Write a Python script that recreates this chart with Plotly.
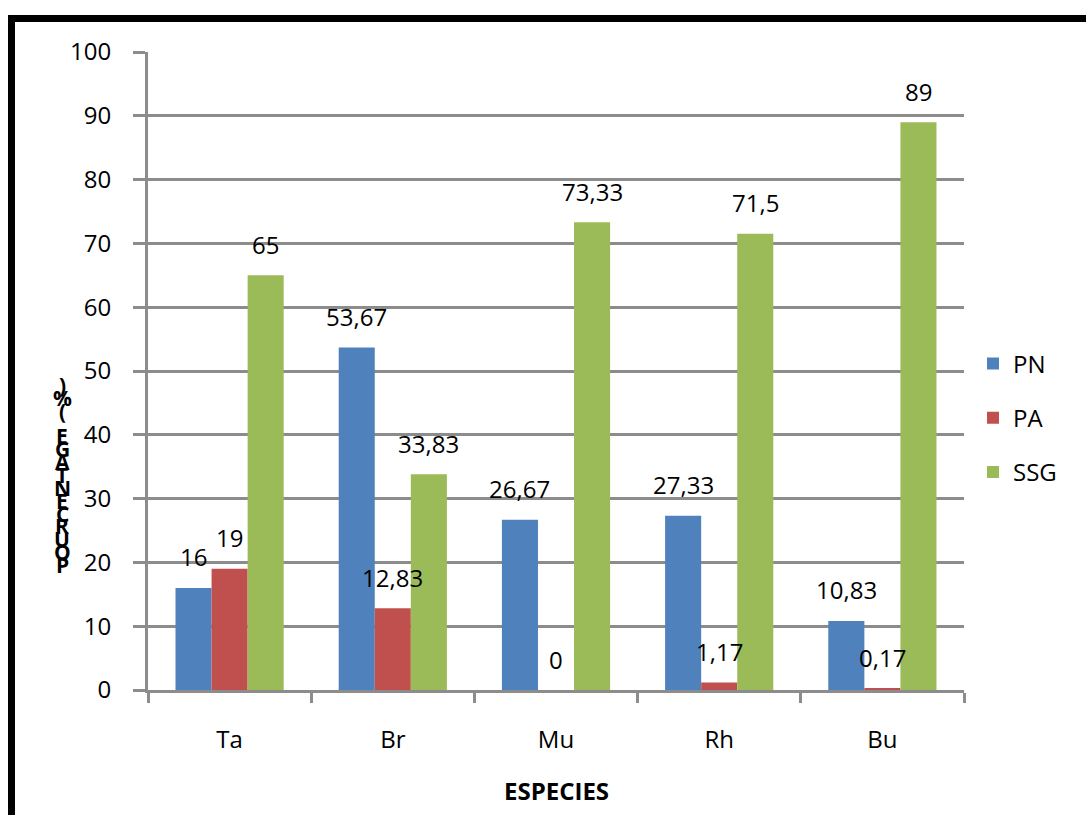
import plotly.graph_objects as go

# Species and measured percentages per group
categories = ["Ta", "Br", "Mu", "Rh", "Bu"]
pn_values = [16, 53.67, 26.67, 27.33, 10.83]
pa_values = [19, 12.83, 0, 1.17, 0.17]
ssg_values = [65, 33.83, 73.33, 71.5, 89]
series_names = ["PN", "PA", "SSG"]
series_colors = ["#4F81BD", "#C0504D", "#9BBB59"]
y_ticks = [0, 10, 20, 30, 40, 50, 60, 70, 80, 90, 100]
y_title = "POURCENTAGE (%)"
x_title = "ESPECIES"

W, H = 1086, 815
M_L, M_R, M_T, M_B = 148, 122, 52, 125
PLOT_W = W - M_L - M_R
PLOT_H = H - M_T - M_B
FONT = "Open Sans, Noto Sans, sans-serif"
GRID = "#8c8c8c"


def px_x(px):
    return (px - M_L) / PLOT_W


def px_y(py):
    return (H - M_B - py) / PLOT_H


def fmt(v):
    return f"{v:g}".replace(".", ",")


fig = go.Figure()
all_values = [pn_values, pa_values, ssg_values]
for name, vals, color in zip(series_names, all_values, series_colors):
    fig.add_trace(go.Bar(
        x=categories, y=vals, name=name, legendgroup=name,
        marker=dict(color=color, line=dict(width=0)),
    ))

# Data labels, one per bar, centred over each bar of the group
bar_px = PLOT_W / len(categories) * (1 - 0.337) / 3
for i, vals in enumerate(all_values):
    for cat, v in zip(categories, vals):
        fig.add_annotation(
            x=cat, y=v, xref="x", yref="y", text=fmt(v), showarrow=False,
            xshift=(i - 1) * bar_px, yshift=31, yanchor="middle",
            font=dict(family=FONT, size=24, color="black"),
        )

# Vertical stacked y-axis title, characters in reverse order
chars = list(reversed(y_title))
top_px, bot_px = 385, 565
step = (bot_px - top_px) / (len(chars) - 1)
for k, ch in enumerate(chars):
    if ch == " ":
        continue
    fig.add_annotation(
        x=px_x(62), y=px_y(top_px + k * step), xref="paper", yref="paper",
        text=f"<b>{ch}</b>", showarrow=False, xanchor="center", yanchor="middle",
        font=dict(family=FONT, size=21, color="black"),
    )

# X-axis title
fig.add_annotation(
    x=0.5, y=px_y(790), xref="paper", yref="paper", text=f"<b>{x_title}</b>",
    showarrow=False, yanchor="middle",
    font=dict(family=FONT, size=24, color="black"),
)

# Black frame around the chart (top and left edges)
fig.add_shape(type="line", xref="paper", yref="paper",
              x0=px_x(8), x1=px_x(W + 10), y0=px_y(18.5), y1=px_y(18.5),
              line=dict(color="black", width=7))
fig.add_shape(type="line", xref="paper", yref="paper",
              x0=px_x(11.5), x1=px_x(11.5), y0=px_y(15), y1=px_y(H + 10),
              line=dict(color="black", width=7))

fig.update_layout(
    width=W, height=H,
    margin=dict(l=M_L, r=M_R, t=M_T, b=M_B, autoexpand=False),
    paper_bgcolor="white", plot_bgcolor="white",
    barmode="group", bargap=0.337, bargroupgap=0,
    font=dict(family=FONT, size=24, color="black"),
    legend=dict(
        x=px_x(973), y=px_y(418), xanchor="left", yanchor="middle",
        font=dict(family=FONT, size=24, color="black"),
        tracegroupgap=20, bgcolor="rgba(0,0,0,0)",
    ),
    xaxis=dict(
        type="category", range=[-0.5, len(categories) - 0.5],
        showline=True, linecolor=GRID, linewidth=3,
        ticks="outside", tickson="boundaries", ticklen=10, tickwidth=3,
        tickcolor=GRID, showgrid=False, zeroline=False,
        ticklabelstandoff=26, tickfont=dict(family=FONT, size=24),
    ),
    yaxis=dict(
        range=[0, 100], tickvals=y_ticks,
        showline=True, linecolor=GRID, linewidth=3,
        ticks="outside", ticklen=12, tickwidth=3, tickcolor=GRID,
        showgrid=True, gridcolor=GRID, gridwidth=3, zeroline=False,
        ticklabelstandoff=17, tickfont=dict(family=FONT, size=24),
    ),
)

fig.write_html("out.html")
